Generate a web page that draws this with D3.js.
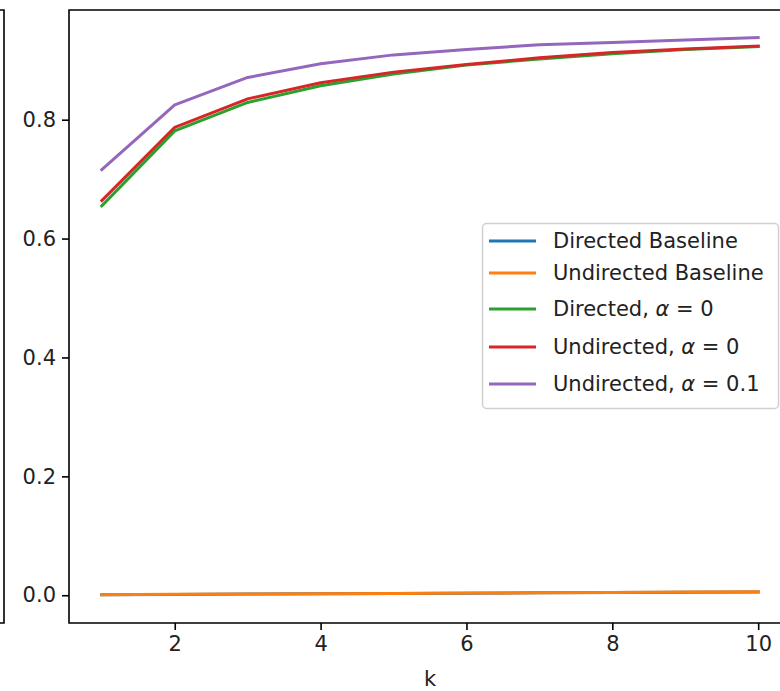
<!DOCTYPE html>
<html>
<head>
<meta charset="utf-8">
<script src="https://cdn.jsdelivr.net/npm/d3@7"></script>
<style>
  body { margin: 0; background: #fff; }
  svg text { font-family: "DejaVu Sans", sans-serif; fill: #222; }
</style>
</head>
<body>
<div id="chart-area"></div>
<script>
// data
let ks = [1, 2, 3, 4, 5, 6, 7, 8, 9, 10];
let directedBaseline   = [0.0009, 0.0014, 0.0019, 0.0024, 0.0029, 0.0034, 0.004, 0.0046, 0.0051, 0.0056];
let undirectedBaseline = [0.001, 0.0015, 0.002, 0.0025, 0.003, 0.0036, 0.0042, 0.0048, 0.0054, 0.006];
let directedA0   = [0.655, 0.781, 0.829, 0.857, 0.877, 0.892, 0.902, 0.911, 0.918, 0.923];
let undirectedA0 = [0.664, 0.787, 0.835, 0.862, 0.880, 0.893, 0.904, 0.913, 0.919, 0.924];
let undirectedA01 = [0.716, 0.825, 0.871, 0.894, 0.909, 0.918, 0.926, 0.930, 0.934, 0.938];
let yTicks = [0.0, 0.2, 0.4, 0.6, 0.8];
let xTicks = [2, 4, 6, 8, 10];

let series = [
  {name: "Directed Baseline", alpha: null, values: directedBaseline, color: "#1f77b4"},
  {name: "Undirected Baseline", alpha: null, values: undirectedBaseline, color: "#ff7f0e"},
  {name: "Directed, ", alpha: "0", values: directedA0, color: "#2ca02c"},
  {name: "Undirected, ", alpha: "0", values: undirectedA0, color: "#d62728"},
  {name: "Undirected, ", alpha: "0.1", values: undirectedA01, color: "#9467bd"}
];

let w = 780, h = 691;
let fs = 21;

let svg = d3.select("#chart-area")
  .append("svg")
  .attr("width", w)
  .attr("height", h);

// axes box (right spine falls outside the crop)
let pLeft = 69, pTop = 10, pBottom = 623, pRight = 791;

let x = d3.scaleLinear()
  .domain([0.55, 10.45])
  .range([pLeft, pRight]);

let y = d3.scaleLinear()
  .domain([-0.0467, 0.9845])
  .range([pBottom, pTop]);

// leftover edge of the neighbouring subplot
svg.append("path")
  .attr("d", "M0,10 H4 V623 H0")
  .attr("fill", "none")
  .attr("stroke", "#000")
  .attr("stroke-width", 1.6);

let line = d3.line()
  .x(function(d, i){ return x(ks[i]); })
  .y(function(d){ return y(d); });

svg.selectAll(".series")
  .data(series)
  .enter()
  .append("path")
    .attr("class", "series")
    .attr("d", function(d){ return line(d.values); })
    .attr("fill", "none")
    .attr("stroke", function(d){ return d.color; })
    .attr("stroke-width", 3)
    .attr("stroke-linejoin", "round")
    .attr("stroke-linecap", "square");

// spines
svg.append("path")
  .attr("d", "M" + pRight + "," + pTop + " H" + pLeft + " V" + pBottom + " H" + pRight)
  .attr("fill", "none")
  .attr("stroke", "#000")
  .attr("stroke-width", 1.6);

// y axis
let yAxis = d3.axisLeft(y)
  .tickValues(yTicks)
  .tickFormat(d3.format(".1f"))
  .tickSize(7)
  .tickPadding(6);

let gy = svg.append("g")
  .attr("transform", "translate(" + pLeft + ",0)")
  .call(yAxis);
gy.select(".domain").remove();
gy.selectAll("line").attr("stroke", "#000").attr("stroke-width", 1.6);
gy.selectAll("text")
  .attr("font-size", fs)
  .attr("font-family", "DejaVu Sans")
  .attr("fill", "#222");

// x axis
let xAxis = d3.axisBottom(x)
  .tickValues(xTicks)
  .tickFormat(d3.format("d"))
  .tickSize(7)
  .tickPadding(6);

let gx = svg.append("g")
  .attr("transform", "translate(0," + pBottom + ")")
  .call(xAxis);
gx.select(".domain").remove();
gx.selectAll("line").attr("stroke", "#000").attr("stroke-width", 1.6);
gx.selectAll("text")
  .attr("font-size", fs)
  .attr("font-family", "DejaVu Sans")
  .attr("fill", "#222");

svg.append("text")
  .attr("x", (pLeft + pRight) / 2)
  .attr("y", 686)
  .attr("text-anchor", "middle")
  .attr("font-size", fs)
  .text("k");

// legend
let legend = svg.append("g");
legend.append("rect")
  .attr("x", 482.5)
  .attr("y", 223.5)
  .attr("width", 296)
  .attr("height", 185)
  .attr("rx", 4)
  .attr("fill", "#fff")
  .attr("fill-opacity", 0.85)
  .attr("stroke", "#d0d0d0")
  .attr("stroke-width", 1.5);

let rowY = [241, 273, 309, 347, 384];

let rows = legend.selectAll(".row")
  .data(series)
  .enter()
  .append("g")
    .attr("transform", function(d, i){ return "translate(0," + rowY[i] + ")"; });

rows.append("line")
  .attr("x1", 489)
  .attr("x2", 536)
  .attr("stroke", function(d){ return d.color; })
  .attr("stroke-width", 3);

let labels = rows.append("text")
  .attr("x", 553)
  .attr("y", 7)
  .attr("font-size", fs)
  .attr("xml:space", "preserve");

labels.append("tspan").text(function(d){ return d.name; });
labels.filter(function(d){ return d.alpha !== null; })
  .each(function(d){
    let t = d3.select(this);
    t.append("tspan").attr("font-style", "italic").text("α");
    t.append("tspan").text(" = " + d.alpha);
  });
</script>
</body>
</html>
